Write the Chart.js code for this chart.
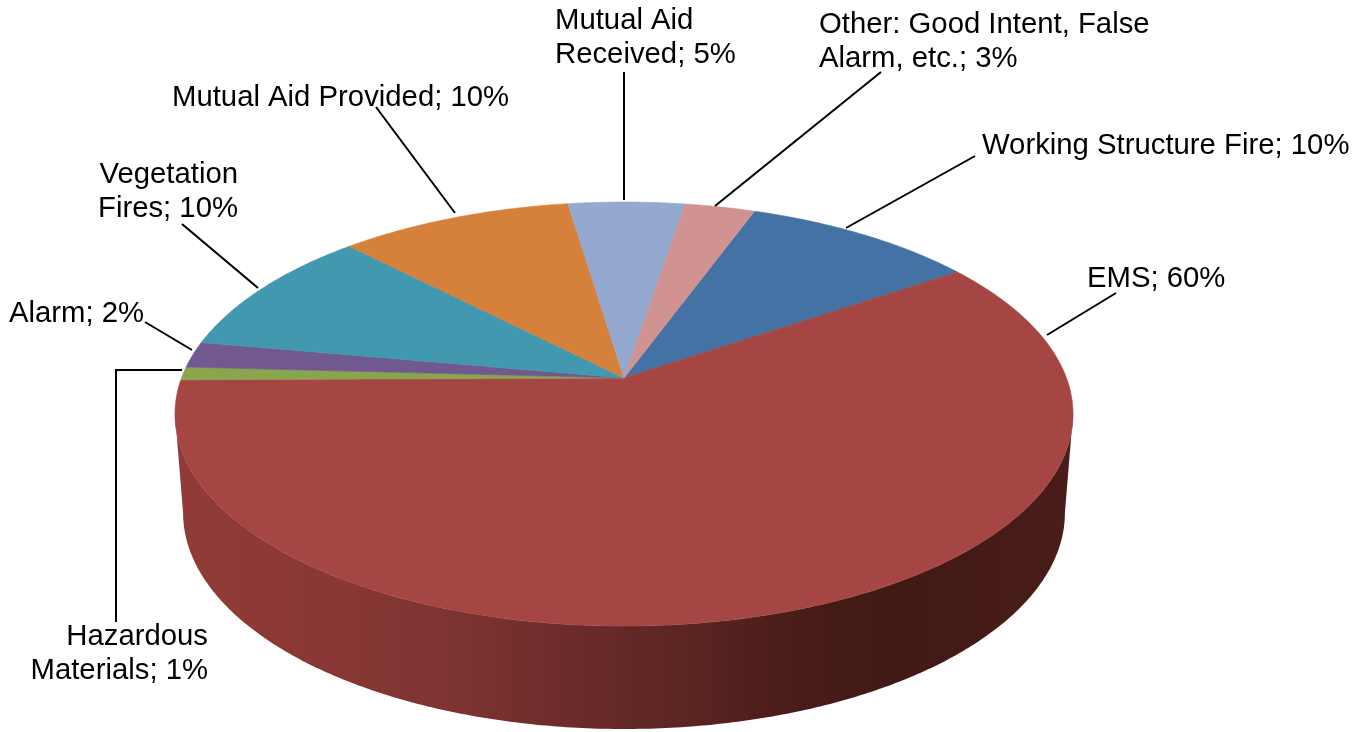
<!DOCTYPE html>
<html>
<head>
<meta charset="utf-8">
<title>Incident types</title>
<script src="https://cdn.jsdelivr.net/npm/chart.js@4"></script>
<style>
  html, body { margin: 0; padding: 0; background: #fff; }
  canvas { display: block; }
</style>
</head>
<body>
<canvas id="myChart" width="1372" height="732"></canvas>
<script>
const categories = [
  'Working Structure Fire',
  'EMS',
  'Hazardous Materials',
  'Alarm',
  'Vegetation Fires',
  'Mutual Aid Provided',
  'Mutual Aid Received',
  'Other: Good Intent, False Alarm, etc.',
];
const percents = [10, 60, 1, 2, 10, 10, 5, 3];
const sliceColors = ['#4572a5', '#a54644', '#89a54e', '#71588f', '#4198af', '#d6813b', '#93a9cf', '#d19392'];

// ------------------------------------------------------------------
// LAYOUT of the drawing, nothing about the data here
const FONT = '29.3px "Liberation Sans", Arial, sans-serif';
const LINE_HEIGHT = 33.5;

// perspective of the disc: k tilts it, apex is where the slices meet
const TOP = { cx: 624, cy: 378, rx: 442.5, ry: 205.9, k: -0.17 };
const BOTTOM = { cx: 624, cy: 476, rx: 434.5, ry: 210, k: -0.17 };
const WALL_STOPS = [
  [0, '#903b38'], [0.15, '#8a3835'], [0.3, '#7e3431'], [0.45, '#6a2b29'],
  [0.58, '#5a2421'], [0.7, '#481c19'], [0.8, '#401915'], [1, '#4a1c1a'],
];

// one entry per category: text anchor, words on first line, leader polyline
const labelLayout = [
  { x: 982, y: 154, align: 'left', firstLine: 99, leader: [[975, 156], [846, 228]] },
  { x: 1087, y: 287, align: 'left', firstLine: 99, leader: [[1116, 293], [1047, 335]] },
  { x: 208, y: 645, align: 'right', firstLine: 1, leader: [[116, 622], [116, 370], [182, 370]] },
  { x: 9, y: 322, align: 'left', firstLine: 99, leader: [[145, 322], [192, 350]] },
  { x: 238, y: 183, align: 'right', firstLine: 1, leader: [[182, 224], [258, 288]] },
  { x: 172, y: 106, align: 'left', firstLine: 99, leader: [[376, 107], [455, 213]] },
  { x: 555, y: 29, align: 'left', firstLine: 2, leader: [[624, 72], [624, 200]] },
  { x: 819, y: 33, align: 'left', firstLine: 4, leader: [[881, 72], [715, 206]] },
];

function project(disc, angle) {
  const u = Math.cos(angle);
  const v = Math.sin(angle);
  const w = 1 + disc.k * v;
  return [disc.cx + disc.rx * u / w, disc.cy + disc.ry * v / w];
}

function traceRim(ctx, disc, from, to) {
  const steps = Math.max(2, Math.ceil(Math.abs(to - from) / 0.01));
  for (let i = 0; i <= steps; i++) {
    const p = project(disc, from + (to - from) * i / steps);
    ctx.lineTo(p[0], p[1]);
  }
}

// ------------------------------------------------------------------
// Draws the wall and the top of the pie from the arcs Chart.js computed
const pie3d = {
  id: 'pie3d',
  beforeDatasetDraw(chart, args) {
    const ctx = chart.ctx;
    const arcs = args.meta.data;
    // silhouette of the disc is where the rim turns back
    const front = Math.asin(-TOP.k);
    const back = Math.PI - front;
    const grad = ctx.createLinearGradient(TOP.cx - TOP.rx, 0, TOP.cx + TOP.rx, 0);
    WALL_STOPS.forEach(s => grad.addColorStop(s[0], s[1]));
    ctx.save();
    ctx.beginPath();
    traceRim(ctx, TOP, front, back);
    traceRim(ctx, BOTTOM, back, front);
    ctx.closePath();
    ctx.fillStyle = grad;
    ctx.fill();

    arcs.forEach((arc, i) => {
      const props = arc.getProps(['startAngle', 'endAngle'], true);
      ctx.beginPath();
      ctx.moveTo(TOP.cx, TOP.cy);
      traceRim(ctx, TOP, props.startAngle, props.endAngle);
      ctx.closePath();
      ctx.fillStyle = sliceColors[i];
      ctx.strokeStyle = sliceColors[i];
      ctx.lineWidth = 0.6;
      ctx.fill();
      ctx.stroke();
    });
    ctx.restore();
    return false;
  },
  afterDraw(chart) {
    const ctx = chart.ctx;
    ctx.save();
    ctx.strokeStyle = '#000';
    ctx.lineWidth = 2;
    ctx.fillStyle = '#000';
    ctx.font = FONT;
    ctx.textBaseline = 'alphabetic';
    labelLayout.forEach((item, i) => {
      ctx.beginPath();
      item.leader.forEach((p, n) => (n ? ctx.lineTo(p[0], p[1]) : ctx.moveTo(p[0], p[1])));
      ctx.stroke();

      const words = `${categories[i]}; ${percents[i]}%`.split(' ');
      const lines = [words.slice(0, item.firstLine).join(' ')];
      if (words.length > item.firstLine) lines.push(words.slice(item.firstLine).join(' '));
      ctx.textAlign = item.align;
      lines.forEach((line, n) => ctx.fillText(line, item.x, item.y + n * LINE_HEIGHT));
    });
    ctx.restore();
  },
};

new Chart(document.getElementById('myChart'), {
  type: 'pie',
  data: {
    labels: categories,
    datasets: [{ data: percents, backgroundColor: sliceColors, borderWidth: 0 }],
  },
  options: {
    responsive: false,
    animation: false,
    rotation: 20,
    plugins: { legend: { display: false }, tooltip: { enabled: false } },
  },
  plugins: [pie3d],
});
</script>
</body>
</html>
